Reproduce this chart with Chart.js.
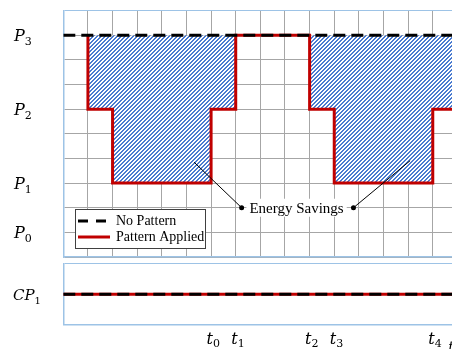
<!DOCTYPE html>
<html lang="en">
<head>
  <meta charset="UTF-8">
  <title>Energy Savings</title>
  <script src="https://cdn.jsdelivr.net/npm/chart.js"></script>
  <style>
    body { margin: 0; background: #fff; overflow: hidden; }
    #wrap { position: relative; width: 452px; height: 349px; overflow: hidden; }
    canvas { position: absolute; left: 0; top: 0; }
  </style>
</head>
<body>
<div id="wrap">
  <canvas id="top" width="470" height="349"></canvas>
  <canvas id="bottom" width="470" height="349"></canvas>
</div>
<script>
  // one grid step per time unit / power unit
  const powerLevels = [9, 6, 3, 1];        // P3, P2, P1, P0
  const powerSubs = ['3', '2', '1', '0'];
  const noPatternX = [0, 16];
  const noPatternY = [9, 9];
  const patternX = [1, 1, 2, 2, 6, 6, 7, 7, 10, 10, 11, 11, 15, 15, 16];
  const patternY = [9, 6, 6, 3, 3, 6, 6, 9, 9, 6, 6, 3, 3, 6, 6];
  const timeTicks = [6, 7, 10, 11, 15];
  const timeSubs = ['0', '1', '2', '3', '4'];
  const cpX = [0, 16];
  const cpY = [1, 1];
  // "Energy Savings" note and its two leader lines
  const savingsText = 'Energy Savings';
  const savingsAt = [9.47, 2];
  const leaderLeftX = [5.31, 7.24];
  const leaderLeftY = [3.85, 2];
  const leaderRightX = [14.08, 11.78];
  const leaderRightY = [3.91, 2];

  const RED = '#c00000';
  const FRAME = '#9dc3e6';
  const GRID = '#a6a6a6';
  const HATCH = '#4a7bd0';

  const zip = (xs, ys) => xs.map((x, i) => ({ x: x, y: ys[i] }));

  // crisp "/" stripes, pixel by pixel
  function makeHatch() {
    const c = document.createElement('canvas');
    c.width = 4; c.height = 4;
    const g = c.getContext('2d');
    g.fillStyle = '#fff';
    g.fillRect(0, 0, 4, 4);
    g.fillStyle = HATCH;
    for (let y = 0; y < 4; y++) {
      for (let x = 0; x < 4; x++) {
        if ((x + y) % 4 < 2) g.fillRect(x, y, 1, 1);
      }
    }
    return g.createPattern(c, 'repeat');
  }

  // italic letter(s) with an upright subscript, like the math labels
  function mathLabel(ctx, base, sub, x, y, size) {
    ctx.save();
    ctx.fillStyle = '#000';
    ctx.textAlign = 'left';
    ctx.textBaseline = 'alphabetic';
    ctx.font = 'italic ' + size + 'px "DejaVu Serif"';
    ctx.fillText(base, x, y);
    const w = ctx.measureText(base).width;
    ctx.font = Math.round(size * 0.66) + 'px "DejaVu Serif"';
    ctx.fillText(sub, x + w, y + 3.5);
    ctx.restore();
  }

  const topText = {
    id: 'topText',
    beforeDatasetsDraw(chart) {
      const ctx = chart.ctx;
      const xs = chart.scales.x, ys = chart.scales.y;
      ctx.save();
      ctx.font = '15px "Liberation Serif"';
      const w = ctx.measureText(savingsText).width;
      const cx = xs.getPixelForValue(savingsAt[0]);
      const cy = ys.getPixelForValue(savingsAt[1]);
      ctx.fillStyle = '#fff';
      ctx.fillRect(cx - w / 2 - 3, cy - 9, w + 6, 18);
      ctx.fillStyle = '#000';
      ctx.textAlign = 'center';
      ctx.textBaseline = 'middle';
      ctx.fillText(savingsText, cx, cy + 1);
      ctx.restore();
    },
    afterDraw(chart) {
      const ctx = chart.ctx;
      const ys = chart.scales.y;
      powerLevels.forEach((v, i) => {
        mathLabel(ctx, 'P', powerSubs[i], 14, ys.getPixelForValue(v) + 6, 16);
      });
      // legend box
      ctx.save();
      ctx.fillStyle = '#fff';
      ctx.fillRect(75, 209.5, 130, 39);
      ctx.strokeStyle = '#404040';
      ctx.lineWidth = 1;
      ctx.strokeRect(75.5, 209.5, 130, 39);
      ctx.lineWidth = 3;
      ctx.strokeStyle = '#000';
      ctx.setLineDash([10, 8]);
      ctx.beginPath(); ctx.moveTo(78, 221); ctx.lineTo(108, 221); ctx.stroke();
      ctx.setLineDash([]);
      ctx.strokeStyle = RED;
      ctx.beginPath(); ctx.moveTo(78, 237); ctx.lineTo(110, 237); ctx.stroke();
      ctx.fillStyle = '#000';
      ctx.font = '14px "Liberation Serif"';
      ctx.textBaseline = 'middle';
      ctx.fillText('No Pattern', 116, 221);
      ctx.fillText('Pattern Applied', 116, 237);
      ctx.restore();
    }
  };

  new Chart(document.getElementById('top'), {
    type: 'line',
    data: {
      datasets: [
        { label: 'No Pattern', data: zip(noPatternX, noPatternY), borderColor: '#000', borderWidth: 3,
          borderDash: [12, 6], pointRadius: 0, fill: false, order: 0 },
        { label: 'Pattern Applied', data: zip(patternX, patternY), borderColor: RED, borderWidth: 3,
          pointRadius: 0, order: 1,
          fill: { target: 0, above: 'rgba(0,0,0,0)', below: makeHatch() } },
        { data: zip(leaderLeftX, leaderLeftY), borderColor: '#000', borderWidth: 1, fill: false,
          pointRadius: [0, 2.5], pointBackgroundColor: '#000', pointBorderWidth: 0, order: -1 },
        { data: zip(leaderRightX, leaderRightY), borderColor: '#000', borderWidth: 1, fill: false,
          pointRadius: [0, 2.5], pointBackgroundColor: '#000', pointBorderWidth: 0, order: -1 }
      ]
    },
    options: {
      responsive: false,
      animation: false,
      layout: { padding: { top: 10.7, bottom: 92, left: 0, right: 12.6 } },
      plugins: { legend: { display: false }, tooltip: { enabled: false } },
      scales: {
        x: {
          type: 'linear', min: 0, max: 16,
          ticks: { display: false, stepSize: 1 },
          grid: { color: GRID, drawTicks: false },
          border: { color: FRAME, width: 1.5 },
          afterFit: s => { s.height = 0; }
        },
        y: {
          min: 0, max: 10,
          ticks: { display: false, stepSize: 1 },
          grid: { color: c => c.tick.value === 10 ? FRAME : GRID, drawTicks: false },
          border: { color: FRAME, width: 1.5 },
          afterFit: s => { s.width = 63.3; }
        }
      }
    },
    plugins: [topText]
  });

  const bottomText = {
    id: 'bottomText',
    afterDraw(chart) {
      const ctx = chart.ctx;
      const xs = chart.scales.x, ys = chart.scales.y;
      mathLabel(ctx, 'CP', '1', 13, ys.getPixelForValue(1) + 6, 15);
      const base = chart.chartArea.bottom + 19;
      timeTicks.forEach((v, i) => {
        mathLabel(ctx, 't', timeSubs[i], xs.getPixelForValue(v) - 4.5, base, 16);
      });
      ctx.save();
      ctx.fillStyle = '#000';
      ctx.font = 'italic 14px "DejaVu Serif"';
      ctx.fillText('t', xs.getPixelForValue(15.63), 352);
      ctx.restore();
    }
  };

  new Chart(document.getElementById('bottom'), {
    type: 'line',
    data: {
      datasets: [
        { label: 'No Pattern', data: zip(cpX, cpY), borderColor: '#000', borderWidth: 3,
          borderDash: [12, 6], pointRadius: 0, fill: false },
        { label: 'Pattern Applied', data: zip(cpX, cpY), borderColor: RED, borderWidth: 3,
          pointRadius: 0, fill: false }
      ]
    },
    options: {
      responsive: false,
      animation: false,
      layout: { padding: { top: 263.7, bottom: 24.3, left: 0, right: 12.6 } },
      plugins: { legend: { display: false }, tooltip: { enabled: false } },
      scales: {
        x: {
          type: 'linear', min: 0, max: 16,
          ticks: { display: false, stepSize: 1 },
          grid: { display: false },
          border: { color: FRAME, width: 1.5 },
          afterFit: s => { s.height = 0; }
        },
        y: {
          min: 0, max: 2,
          ticks: { display: false, stepSize: 1 },
          grid: { color: c => c.tick.value === 2 ? FRAME : 'rgba(0,0,0,0)', drawTicks: false },
          border: { color: FRAME, width: 1.5 },
          afterFit: s => { s.width = 63.3; }
        }
      }
    },
    plugins: [bottomText]
  });
</script>
</body>
</html>
